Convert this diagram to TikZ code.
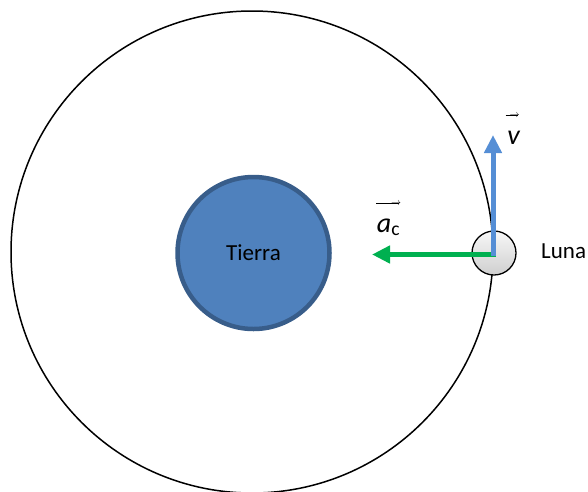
\documentclass[tikz,border=0pt]{standalone}
\usepackage{fontspec}
\setmainfont{Carlito}
\usetikzlibrary{arrows.meta}
\definecolor{earthfill}{HTML}{4F81BD}
\definecolor{earthline}{HTML}{385D8A}
\definecolor{velblue}{HTML}{558ED5}
\definecolor{accgreen}{HTML}{00B050}
\newcommand\myvecbar[1]{\mbox{\rule[2.2pt]{#1}{0.6pt}\kern-8pt{\fontsize{10}{10}\selectfont$\rightarrow$}}}
\tikzset{
  planet/.style={circle, draw=earthline, fill=earthfill, line width=4.5pt, minimum size=152pt, inner sep=0pt, font=\fontsize{23}{27}\selectfont},
  moonbody/.style={circle, draw=black, line width=1.3pt, top color=gray!6, bottom color=gray!38, minimum size=44pt, inner sep=0pt},
  lbl/.style={font=\fontsize{23}{27}\selectfont, inner sep=0pt},
  veclbl/.style={font=\fontsize{28}{33}\selectfont, inner sep=0pt, anchor=base}
}
\tikzset{vecarrow/.style={line width=5pt, -{Triangle[length=18pt,width=17pt]}}}
\begin{document}
\begin{tikzpicture}[x=1pt,y=-1pt]
\useasboundingbox (0,0) rectangle (588,491);
\node[circle, draw=black, line width=1.5pt, minimum size=482pt, inner sep=0pt] (orbit) at (252,252) {};
\node[planet] (earth) at (253.5,253) {Tierra};
\node[moonbody] (moon) at (494,253) {};
\coordinate (acctip) at (372,254.5);
\coordinate (veltip) at (493,135);
\draw[vecarrow, accgreen] (496,254.5) -- (acctip);
\draw[vecarrow, velblue] (493,256) -- (veltip);
\node[lbl, anchor=west] (luna) at (541,251.5) {Luna};
\node[veclbl] (vlbl) at (514,144) {\begin{tabular}[b]{@{}c@{}}\hspace*{-3pt}\myvecbar{12pt}\\[-6.3pt]\textit{v}\end{tabular}};
\node[veclbl] (albl) at (388.5,232) {\begin{tabular}[b]{@{}c@{}}\myvecbar{23pt}\\[-6.3pt]\textit{a}\textsubscript{c}\end{tabular}};
\end{tikzpicture}
\end{document}
